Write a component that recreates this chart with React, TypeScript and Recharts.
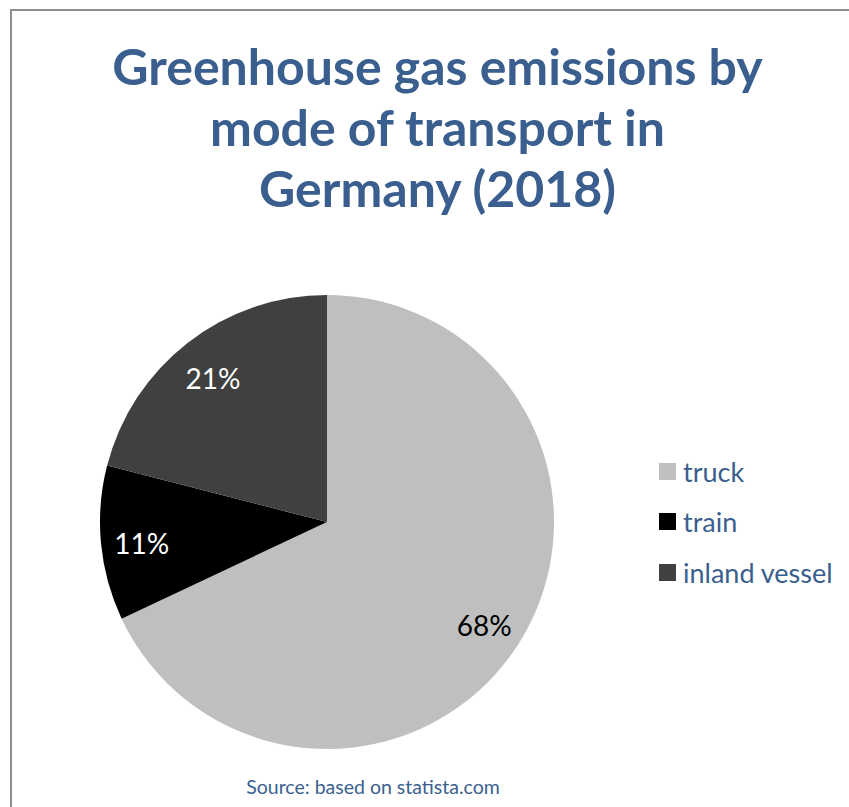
import React from 'react';
import { PieChart, Pie, Cell, Legend } from 'recharts';

const modes = ['truck', 'train', 'inland vessel'];
const shares = [68, 11, 21];
const sliceColors = ['#BFBFBF', '#000000', '#404040'];
const labelColors = ['#000000', '#FFFFFF', '#FFFFFF'];

const BLUE = '#3A5F8E';
const FONT = 'Lato, "Open Sans", sans-serif';
const RAD = Math.PI / 180;

const data = modes.map((name, i) => ({ name, value: shares[i] }));

const renderLabel = (props: any) => {
  const { cx, cy, midAngle, outerRadius, index, value } = props;
  const r = outerRadius * 0.82;
  const x = cx + r * Math.cos(-midAngle * RAD);
  const y = cy + r * Math.sin(-midAngle * RAD) + 3;
  return (
    <text
      x={x}
      y={y}
      fill={labelColors[index]}
      textAnchor="middle"
      dominantBaseline="central"
      fontSize={28}
      fontFamily={FONT}
    >
      {`${value}%`}
    </text>
  );
};

// legend drawn in the same order as the data (truck, train, inland vessel)
const renderLegend = () => (
  <div>
    {modes.map((name, i) => (
      <div key={`legend-${i}`} style={{ display: 'flex', alignItems: 'center', height: 50.5 }}>
        <span style={{ width: 17, height: 17, background: sliceColors[i], marginRight: 7, display: 'inline-block' }} />
        <span style={{ color: BLUE, fontSize: 27, fontFamily: FONT }}>{name}</span>
      </div>
    ))}
  </div>
);

const App: React.FC = () => {
  return (
    <div style={{ position: 'absolute', left: 0, top: 0, width: 849, height: 807, background: '#fff', overflow: 'hidden' }}>
      {/* chart frame, only top and left edges are visible */}
      <div style={{ position: 'absolute', left: 10, top: 9, width: 860, height: 820, borderLeft: '2px solid #8E8E8E', borderTop: '2px solid #8E8E8E' }} />
      <div
        style={{
          position: 'absolute',
          left: 10,
          top: 36,
          width: 855,
          textAlign: 'center',
          color: BLUE,
          fontFamily: FONT,
          fontWeight: 700,
          fontSize: 50,
          lineHeight: '61px',
        }}
      >
        Greenhouse gas emissions by
        <br />
        mode of transport in
        <br />
        Germany (2018)
      </div>
      <div style={{ position: 'absolute', left: 0, top: 0 }}>
        <PieChart width={849} height={807}>
          <Pie
            data={data}
            dataKey="value"
            nameKey="name"
            cx={322}
            cy={517}
            outerRadius={227}
            startAngle={90}
            endAngle={-270}
            labelLine={false}
            label={renderLabel}
            isAnimationActive={false}
            stroke="none"
          >
            {data.map((entry, index) => (
              <Cell key={`cell-${index}`} fill={sliceColors[index]} />
            ))}
          </Pie>
          <Legend
            layout="vertical"
            content={renderLegend}
            wrapperStyle={{ left: 659, top: 446, width: 190 }}
          />
        </PieChart>
      </div>
      <div
        style={{
          position: 'absolute',
          left: 0,
          width: 746,
          top: 775,
          textAlign: 'center',
          color: BLUE,
          fontFamily: FONT,
          fontSize: 19.5,
        }}
      >
        Source: based on statista.com
      </div>
    </div>
  );
};

export default App;
